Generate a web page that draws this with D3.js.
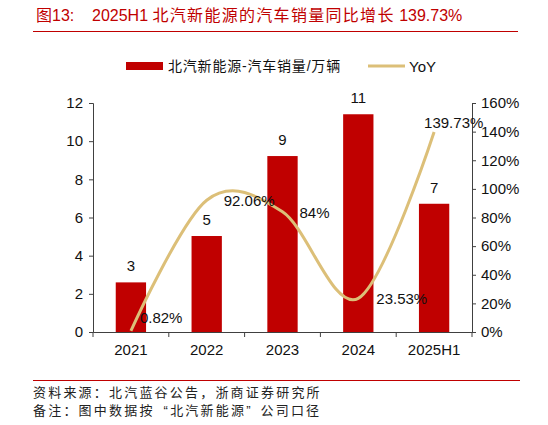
<!DOCTYPE html>
<html>
<head>
<meta charset="utf-8">
<script src="https://cdn.jsdelivr.net/npm/d3@7"></script>
<style>
  body { margin: 0; background: #fff; }
  text { font-family: Arial, "Liberation Sans", "Noto Sans CJK SC", sans-serif; }
</style>
</head>
<body>
<svg id="chart" width="548" height="425"></svg>
<script>
// data
var years = ['2021', '2022', '2023', '2024', '2025H1'];
var sales = [2.6, 5.03, 9.22, 11.41, 6.72];          // 万辆
var salesLabels = ['3', '5', '9', '11', '7'];
var yoy = [0.82, 92.06, 84, 23.53, 139.73];           // %
var yoyLabels = ['0.82%', '92.06%', '84%', '23.53%', '139.73%'];
var leftTicks = [0, 2, 4, 6, 8, 10, 12];
var rightTicks = [0, 20, 40, 60, 80, 100, 120, 140, 160];

var RED = '#c00000', GOLD = '#dcbf78', AXIS = '#404040';

var svg = d3.select('#chart');

var margin = {top: 103, right: 76, bottom: 93, left: 93},
    width = 548 - margin.left - margin.right,
    height = 425 - margin.top - margin.bottom;

// title
var title = svg.append('text')
    .attr('y', 21)
    .attr('fill', RED).attr('font-size', 16);
title.append('tspan').attr('x', 36).text('图13:');
title.append('tspan').attr('x', 92).text('2025H1 ');
title.append('tspan').attr('letter-spacing', 1.3).text('北汽新能源的汽车销量同比增长');
title.append('tspan').text(' 139.73%');
svg.append('line')
    .attr('x1', 33).attr('x2', 518).attr('y1', 31.5).attr('y2', 31.5)
    .attr('stroke', RED).attr('stroke-width', 1.2);

// legend
svg.append('rect').attr('x', 126).attr('y', 62).attr('width', 37).attr('height', 8).attr('fill', RED);
svg.append('text').attr('x', 168).attr('y', 71).attr('font-size', 14).attr('fill', '#111')
    .attr('letter-spacing', 0.8)
    .text('北汽新能源-汽车销量/万辆');
svg.append('line').attr('x1', 368).attr('x2', 405).attr('y1', 66).attr('y2', 66)
    .attr('stroke', GOLD).attr('stroke-width', 3);
svg.append('text').attr('x', 409).attr('y', 72).attr('font-size', 15).attr('fill', '#111').text('YoY');

var g = svg.append('g').attr('transform', 'translate(' + margin.left + ',' + margin.top + ')');

var x = d3.scaleBand().domain(years).range([0, width]).paddingInner(0.6).paddingOuter(0.3);
var y = d3.scaleLinear().domain([0, 12]).range([height, 0]);
var y2 = d3.scaleLinear().domain([0, 160]).range([height, 0]);

// bars
g.selectAll('.bar').data(sales).enter().append('rect')
    .attr('x', function(d, i) { return x(years[i]); })
    .attr('y', function(d) { return y(d); })
    .attr('width', x.bandwidth())
    .attr('height', function(d) { return height - y(d); })
    .attr('fill', RED);

g.selectAll('.barlab').data(sales).enter().append('text')
    .attr('x', function(d, i) { return x(years[i]) + x.bandwidth() / 2; })
    .attr('y', function(d) { return y(d) - 11; })
    .attr('text-anchor', 'middle').attr('font-size', 15).attr('fill', '#111')
    .text(function(d, i) { return salesLabels[i]; });

// axes
var axL = g.append('g').call(d3.axisLeft(y).tickValues(leftTicks).tickSize(4).tickPadding(6));
var axR = g.append('g').attr('transform', 'translate(' + width + ',0)')
    .call(d3.axisRight(y2).tickValues(rightTicks).tickSize(4).tickPadding(5).tickFormat(function(d) { return d + '%'; }));
var axB = g.append('g').attr('transform', 'translate(0,' + height + ')')
    .call(d3.axisBottom(x).tickSize(0).tickPadding(12));

// bottom ticks sit between categories
axB.selectAll('.sep').data(d3.range(years.length + 1)).enter().append('line')
    .attr('x1', function(i) { return i * width / years.length; })
    .attr('x2', function(i) { return i * width / years.length; })
    .attr('y1', 0).attr('y2', 5).attr('stroke', AXIS);

[axL, axR, axB].forEach(function(a) {
    a.selectAll('path,line').attr('stroke', AXIS);
    a.selectAll('text').attr('font-size', 15).attr('fill', '#111')
        .attr('font-family', 'Arial, "Liberation Sans", sans-serif');
});

// YoY smoothed line
var line = d3.line()
    .x(function(d, i) { return x(years[i]) + x.bandwidth() / 2; })
    .y(function(d) { return y2(d); })
    .curve(d3.curveCatmullRom.alpha(0));

g.append('path').datum(yoy)
    .attr('d', line)
    .attr('fill', 'none').attr('stroke', GOLD).attr('stroke-width', 3);

var labOff = [[9, -8], [17, 6], [17, 6], [18, 6], [-10, -4]];
g.selectAll('.yoylab').data(yoy).enter().append('text')
    .attr('x', function(d, i) { return x(years[i]) + x.bandwidth() / 2 + labOff[i][0]; })
    .attr('y', function(d, i) { return y2(d) + labOff[i][1]; })
    .attr('font-size', 15).attr('fill', '#111')
    .text(function(d, i) { return yoyLabels[i]; });

// footer
svg.append('line')
    .attr('x1', 33).attr('x2', 520).attr('y1', 380.5).attr('y2', 380.5)
    .attr('stroke', RED).attr('stroke-width', 1);
var notes = ['资料来源：北汽蓝谷公告，浙商证券研究所', '备注：图中数据按“北汽新能源”公司口径'];
svg.selectAll('.note').data(notes).enter().append('text')
    .attr('x', 33).attr('y', function(d, i) { return 397 + i * 18; })
    .attr('font-size', 13).attr('fill', '#222').attr('letter-spacing', 2.2)
    .attr('font-family', '"Noto Sans CJK SC", sans-serif')
    .each(function(d) {
        // quotes render narrow, pad them out to full width
        var t = d3.select(this);
        d.split(/([“”])/).forEach(function(part) {
            if (part === '“') t.append('tspan').attr('dx', 9).text(part).attr('letter-spacing', 2.2);
            else if (part === '”') t.append('tspan').text(part).attr('letter-spacing', 10);
            else if (part) t.append('tspan').text(part);
        });
    });
</script>
</body>
</html>
